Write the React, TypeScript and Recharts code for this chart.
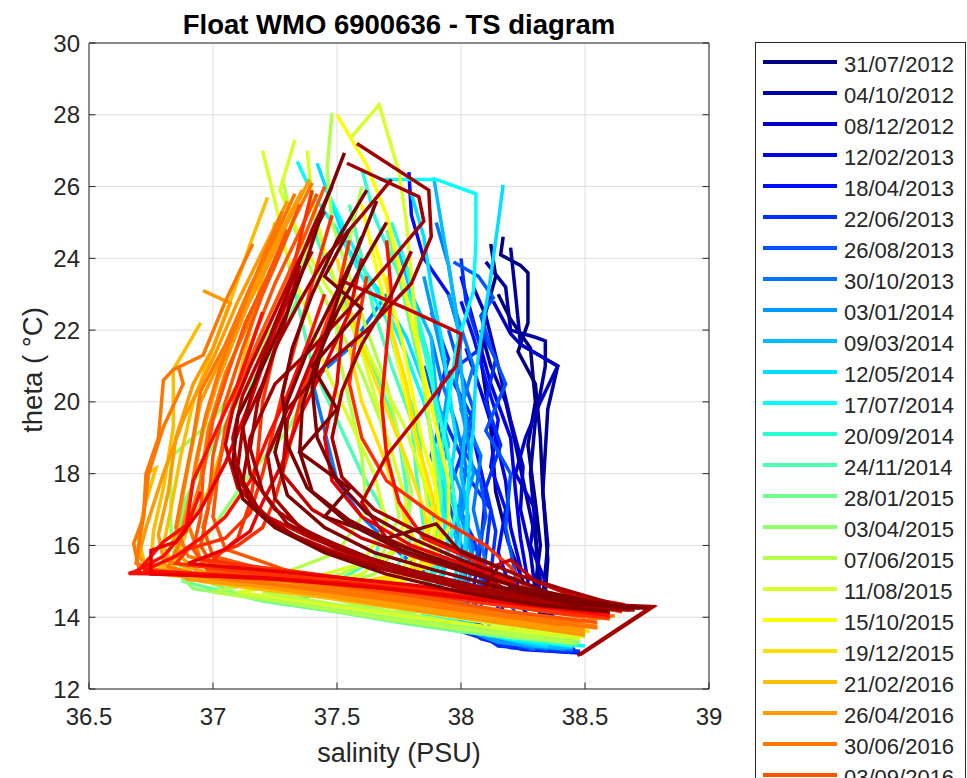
import React from 'react';
import { LineChart, Line, XAxis, YAxis, CartesianGrid, Legend, Label } from 'recharts';

// ---- data ----------------------------------------------------------------

type Pt = [number, number]; // [salinity, theta]
interface Profile {
    bin: number; // date bin, 0 = 31/07/2012 ... 29 = last bin of 2017
    pts: Pt[];
}

const salinityTicks = [36.5, 37, 37.5, 38, 38.5, 39];
const thetaTicks = [12, 14, 16, 18, 20, 22, 24, 26, 28, 30];

const legendDates = [
    '31/07/2012', '04/10/2012', '08/12/2012', '12/02/2013', '18/04/2013', '22/06/2013',
    '26/08/2013', '30/10/2013', '03/01/2014', '09/03/2014', '12/05/2014', '17/07/2014',
    '20/09/2014', '24/11/2014', '28/01/2015', '03/04/2015', '07/06/2015', '11/08/2015',
    '15/10/2015', '19/12/2015', '21/02/2016', '26/04/2016', '30/06/2016', '03/09/2016',
];

// jet(30)
const binColors = [
    '#000080', '#0000a3', '#0000c6', '#0000e9', '#000dff', '#0030ff', '#0054ff', '#0077ff',
    '#009aff', '#00bdff', '#00e0ff', '#04fffb', '#28ffd7', '#4bffb4', '#6eff91', '#91ff6e',
    '#b4ff4b', '#d7ff28', '#fbff04', '#ffe000', '#ffbd00', '#ff9a00', '#ff7700', '#ff5400',
    '#ff3000', '#ff0d00', '#e90000', '#c60000', '#a30000', '#800000',
];

const navyProfiles: Profile[] = [
    { bin: 0, pts: [[38.12, 24.4], [38.14, 23.5], [38.1, 22.5], [38.08, 21.2], [38.12, 19.3], [38.14, 17.5], [38.19, 16.1], [38.25, 15.0], [38.3, 14.4], [38.35, 13.6], [38.42, 13.2]] },
    { bin: 0, pts: [[38.17, 24.6], [38.16, 24.1], [38.24, 23.8], [38.27, 23.6], [38.27, 22.2], [38.23, 21.4], [38.3, 20.5], [38.32, 19.0], [38.33, 17.5], [38.35, 15.6], [38.34, 14.7], [38.38, 13.8], [38.45, 13.3]] },
    { bin: 0, pts: [[38.15, 23.0], [38.2, 22.3], [38.28, 21.5], [38.3, 20.0], [38.27, 18.8], [38.3, 17.2], [38.32, 16.0], [38.3, 14.9], [38.36, 14.0], [38.44, 13.3]] },
    { bin: 1, pts: [[38.2, 24.3], [38.22, 23.0], [38.24, 21.6], [38.39, 21.0], [38.35, 19.8], [38.33, 17.5], [38.35, 16.0], [38.33, 14.6], [38.4, 13.6], [38.47, 13.25]] },
    { bin: 1, pts: [[38.1, 23.9], [38.18, 23.2], [38.2, 22.0], [38.3, 21.8], [38.34, 21.7], [38.34, 21.0], [38.3, 19.5], [38.28, 18.0], [38.3, 16.5], [38.31, 15.2], [38.3, 14.5], [38.38, 13.6], [38.46, 13.2]] },
    { bin: 1, pts: [[38.08, 22.0], [38.12, 21.0], [38.18, 20.0], [38.22, 18.8], [38.26, 17.5], [38.3, 16.2], [38.32, 15.0], [38.3, 14.5], [38.4, 13.5]] },
    { bin: 2, pts: [[38.05, 23.2], [38.1, 22.4], [38.15, 21.0], [38.2, 19.5], [38.25, 18.2], [38.24, 17.0], [38.28, 15.8], [38.3, 14.7], [38.36, 13.8], [38.45, 13.2]] },
    { bin: 2, pts: [[38.13, 22.8], [38.2, 21.9], [38.24, 21.6], [38.39, 21.0], [38.32, 20.0], [38.26, 19.0], [38.22, 18.0], [38.3, 17.0], [38.28, 16.0], [38.34, 15.0], [38.33, 14.3], [38.42, 13.4]] },
    { bin: 3, pts: [[38.0, 23.5], [38.06, 22.0], [38.12, 20.5], [38.2, 19.0], [38.22, 17.5], [38.24, 16.2], [38.27, 15.0], [38.25, 14.3], [38.3, 13.5], [38.42, 13.1]] },
    { bin: 3, pts: [[38.02, 21.5], [38.08, 20.3], [38.14, 19.0], [38.18, 17.8], [38.2, 16.5], [38.24, 15.4], [38.22, 14.6], [38.3, 13.7], [38.44, 13.15]] },
];

const blueProfiles: Profile[] = [
    { bin: 4, pts: [[37.79, 26.4], [37.8, 25.2], [37.85, 24.0], [37.95, 23.0], [38.0, 21.8], [37.98, 20.5], [38.05, 19.0], [38.1, 17.5], [38.08, 16.0], [38.05, 14.8], [38.0, 13.9], [38.08, 13.4], [38.25, 13.1], [38.48, 13.0]] },
    { bin: 4, pts: [[38.0, 22.8], [38.05, 21.8], [38.1, 20.6], [38.15, 19.5], [38.12, 18.2], [38.18, 17.0], [38.15, 15.8], [38.2, 14.8], [38.15, 14.0], [38.3, 13.3], [38.46, 13.1]] },
    { bin: 5, pts: [[38.0, 24.0], [38.02, 22.8], [38.08, 21.5], [37.95, 20.8], [38.05, 19.5], [38.0, 18.2], [38.12, 17.0], [38.1, 15.8], [38.08, 14.7], [38.02, 13.8], [38.15, 13.2], [38.4, 13.05]] },
    { bin: 5, pts: [[37.88, 22.5], [37.95, 21.2], [37.9, 20.0], [38.0, 18.5], [37.95, 17.5], [38.05, 16.2], [38.1, 15.0], [38.05, 14.2], [37.98, 13.65], [38.2, 13.15], [38.45, 13.02]] },
    { bin: 5, pts: [[38.08, 22.0], [38.14, 21.2], [38.1, 20.0], [38.16, 18.8], [38.1, 17.6], [38.14, 16.4], [38.12, 15.2], [38.15, 14.3], [38.1, 13.6], [38.3, 13.15], [38.48, 13.05]] },
    { bin: 6, pts: [[37.97, 23.9], [38.07, 23.5], [38.13, 22.9], [38.08, 22.4], [38.12, 21.5], [38.18, 20.5], [38.1, 19.2], [38.2, 18.0], [38.18, 16.5], [38.22, 15.2], [38.2, 14.4], [38.25, 13.6], [38.4, 13.15]] },
    { bin: 6, pts: [[37.85, 21.0], [37.92, 19.5], [37.88, 18.5], [37.95, 17.2], [38.0, 16.0], [38.02, 15.0], [38.0, 14.2], [38.1, 13.5], [38.35, 13.1]] },
    { bin: 6, pts: [[37.95, 22.0], [38.0, 20.8], [38.05, 19.8], [38.0, 18.8], [38.08, 17.8], [38.1, 16.8], [38.06, 15.6], [38.1, 14.6], [38.05, 13.9], [38.2, 13.3], [38.45, 13.08]] },
    { bin: 7, pts: [[37.9, 25.0], [37.95, 23.8], [37.98, 22.5], [38.05, 21.0], [38.0, 19.8], [38.08, 18.5], [38.05, 17.0], [38.1, 15.5], [38.05, 14.5], [38.05, 13.8], [38.2, 13.3], [38.45, 13.1]] },
    { bin: 7, pts: [[37.7, 23.0], [37.55, 21.5], [37.4, 20.6], [37.45, 19.2], [37.5, 17.8], [37.6, 16.8], [37.75, 15.8], [37.9, 15.0], [38.0, 14.2], [38.1, 13.5], [38.3, 13.1]] },
    { bin: 7, pts: [[37.88, 21.8], [37.92, 20.6], [37.98, 19.4], [38.02, 18.2], [38.0, 17.0], [38.05, 15.9], [38.0, 14.9], [37.98, 14.1], [38.1, 13.5], [38.35, 13.12]] },
];

const cyanProfiles: Profile[] = [
    { bin: 8, pts: [[37.85, 23.5], [37.9, 22.0], [37.95, 20.5], [37.92, 19.0], [38.0, 17.5], [37.98, 16.0], [38.02, 15.0], [38.0, 14.2], [38.0, 13.7], [38.15, 13.3], [38.42, 13.1]] },
    { bin: 8, pts: [[37.95, 23.0], [38.0, 21.8], [37.98, 20.6], [38.02, 19.2], [38.05, 18.0], [38.0, 16.8], [38.05, 15.6], [38.02, 14.6], [38.0, 13.9], [38.2, 13.35], [38.45, 13.15]] },
    { bin: 9, pts: [[37.75, 24.2], [37.8, 23.0], [37.88, 21.8], [37.9, 20.2], [37.95, 18.8], [37.9, 17.5], [37.98, 16.2], [38.0, 15.2], [37.95, 14.2], [38.05, 13.6], [38.3, 13.2], [38.45, 13.15]] },
    { bin: 9, pts: [[37.89, 26.25], [37.92, 25.0], [37.95, 23.8], [37.98, 22.5], [38.0, 21.0], [38.02, 19.5], [38.0, 18.0], [38.03, 16.8], [38.02, 15.5], [38.0, 14.5], [38.0, 13.9], [38.2, 13.4], [38.45, 13.2]] },
    { bin: 10, pts: [[38.17, 26.05], [38.15, 25.0], [38.12, 23.5], [38.09, 22.2], [38.06, 20.8], [38.05, 19.3], [38.03, 17.8], [38.02, 16.3], [38.0, 15.0], [37.98, 14.2], [38.1, 13.5], [38.35, 13.2]] },
    { bin: 10, pts: [[37.42, 26.65], [37.48, 25.5], [37.55, 24.2], [37.68, 23.0], [37.78, 21.8], [37.85, 20.5], [37.88, 19.0], [37.93, 17.5], [37.95, 16.0], [37.92, 14.8], [37.9, 14.0], [38.1, 13.6], [38.4, 13.3]] },
    { bin: 10, pts: [[37.8, 25.8], [37.85, 24.6], [37.88, 23.2], [37.92, 21.8], [37.95, 20.4], [37.98, 19.0], [37.95, 17.6], [38.0, 16.4], [37.98, 15.2], [37.95, 14.3], [38.05, 13.7], [38.35, 13.25]] },
    { bin: 11, pts: [[37.67, 26.2], [37.9, 26.2], [38.06, 25.8], [38.06, 24.4], [38.05, 23.1], [37.98, 21.5], [37.95, 20.0], [37.92, 18.5], [37.95, 17.0], [37.9, 15.5], [37.85, 14.4], [38.0, 13.8], [38.3, 13.3], [38.5, 13.2]] },
    { bin: 11, pts: [[37.34, 26.7], [37.4, 25.8], [37.5, 24.8], [37.6, 23.5], [37.7, 22.3], [37.75, 21.0], [37.82, 19.5], [37.85, 18.0], [37.9, 16.5], [37.88, 15.2], [37.8, 14.3], [37.95, 13.8], [38.2, 13.4], [38.45, 13.2]] },
    { bin: 11, pts: [[37.45, 26.0], [37.52, 25.0], [37.6, 23.8], [37.7, 22.6], [37.78, 21.3], [37.85, 20.0], [37.9, 18.6], [37.92, 17.2], [37.95, 15.9], [37.9, 14.8], [37.85, 14.1], [38.05, 13.7], [38.4, 13.3]] },
    { bin: 12, pts: [[37.6, 26.5], [37.65, 25.2], [37.72, 24.0], [37.8, 22.8], [37.85, 21.5], [37.9, 20.0], [37.95, 18.5], [37.98, 17.0], [37.95, 15.8], [37.85, 14.8], [37.8, 14.0], [38.05, 13.65], [38.45, 13.25]] },
    { bin: 12, pts: [[37.72, 25.0], [37.78, 23.8], [37.82, 22.5], [37.88, 21.0], [37.9, 19.6], [37.92, 18.2], [37.9, 16.8], [37.92, 15.6], [37.85, 14.6], [37.9, 13.9], [38.2, 13.5], [38.47, 13.28]] },
];

const greenProfiles: Profile[] = [
    { bin: 13, pts: [[37.55, 25.5], [37.6, 24.0], [37.65, 22.5], [37.72, 21.0], [37.8, 19.5], [37.82, 18.0], [37.85, 16.5], [37.8, 15.3], [37.7, 14.4], [37.85, 13.9], [38.1, 13.55], [38.45, 13.25]] },
    { bin: 13, pts: [[37.3, 24.0], [37.35, 22.5], [37.4, 21.0], [37.5, 19.5], [37.6, 18.0], [37.7, 16.8], [37.65, 15.6], [37.4, 14.6], [37.25, 14.4], [37.5, 14.15], [38.0, 13.6], [38.45, 13.25]] },
    { bin: 13, pts: [[37.4, 25.8], [37.42, 24.5], [37.5, 23.2], [37.6, 21.8], [37.68, 20.4], [37.75, 19.0], [37.78, 17.6], [37.8, 16.2], [37.72, 15.1], [37.5, 14.5], [37.8, 14.0], [38.2, 13.55], [38.47, 13.3]] },
    { bin: 14, pts: [[37.35, 23.0], [37.25, 21.5], [37.1, 20.0], [36.99, 18.65], [36.89, 17.3], [36.85, 16.0], [36.88, 15.0], [37.2, 14.45], [37.5, 14.15], [37.75, 13.85], [38.0, 13.6], [38.25, 13.4], [38.47, 13.25]] },
    { bin: 14, pts: [[37.7, 24.8], [37.75, 23.5], [37.8, 22.0], [37.85, 20.5], [37.88, 19.0], [37.92, 17.5], [37.9, 16.2], [37.85, 15.0], [37.75, 14.2], [37.95, 13.75], [38.3, 13.4], [38.48, 13.3]] },
    { bin: 15, pts: [[37.4, 24.5], [37.3, 22.8], [37.15, 21.0], [37.0, 19.5], [36.83, 18.46], [36.83, 16.5], [36.85, 15.3], [36.92, 14.8], [37.2, 14.5], [37.5, 14.2], [37.9, 13.75], [38.2, 13.45], [38.46, 13.3]] },
    { bin: 15, pts: [[37.45, 22.0], [37.4, 20.5], [37.3, 19.2], [37.15, 18.0], [37.05, 17.0], [36.95, 16.0], [36.9, 15.2], [37.1, 14.65], [37.45, 14.25], [37.85, 13.85], [38.2, 13.5], [38.47, 13.28]] },
    { bin: 16, pts: [[37.6, 26.0], [37.55, 24.5], [37.5, 23.0], [37.5, 21.5], [37.55, 20.0], [37.6, 18.5], [37.62, 17.0], [37.5, 15.8], [37.2, 15.0], [37.0, 14.7], [37.3, 14.4], [37.7, 13.95], [38.1, 13.6], [38.45, 13.3]] },
];

const yellowProfiles: Profile[] = [
    { bin: 16, pts: [[37.48, 28.05], [37.46, 26.5], [37.48, 25.0], [37.55, 23.5], [37.62, 22.0], [37.7, 20.5], [37.75, 19.0], [37.8, 17.5], [37.78, 16.2], [37.65, 15.2], [37.4, 14.7], [37.6, 14.3], [37.9, 13.95], [38.2, 13.6], [38.47, 13.4]] },
    { bin: 16, pts: [[37.28, 26.2], [37.32, 25.0], [37.4, 23.6], [37.5, 22.2], [37.6, 20.8], [37.68, 19.4], [37.72, 18.0], [37.75, 16.8], [37.68, 15.7], [37.45, 15.0], [37.2, 14.7], [37.5, 14.35], [37.9, 13.9], [38.3, 13.55], [38.48, 13.4]] },
    { bin: 17, pts: [[37.56, 27.4], [37.67, 28.28], [37.75, 26.4], [37.78, 25.0], [37.8, 23.5], [37.82, 22.0], [37.85, 20.5], [37.88, 19.0], [37.9, 17.5], [37.85, 16.2], [37.75, 15.2], [37.8, 14.5], [38.0, 14.1], [38.3, 13.7], [38.5, 13.45]] },
    { bin: 17, pts: [[37.2, 27.0], [37.26, 25.3], [37.3, 24.0], [37.38, 22.5], [37.45, 21.0], [37.55, 19.5], [37.65, 18.0], [37.7, 16.6], [37.6, 15.5], [37.3, 14.9], [37.1, 14.7], [37.4, 14.4], [37.8, 14.0], [38.2, 13.65], [38.48, 13.4]] },
    { bin: 17, pts: [[37.33, 27.3], [37.27, 25.9], [37.35, 24.6], [37.45, 23.3], [37.58, 22.0], [37.68, 20.6], [37.78, 19.2], [37.85, 17.8], [37.88, 16.5], [37.8, 15.4], [37.6, 14.8], [37.9, 14.3], [38.25, 13.85], [38.5, 13.5]] },
    { bin: 17, pts: [[37.38, 27.0], [37.4, 25.6], [37.45, 24.2], [37.52, 22.8], [37.6, 21.4], [37.66, 20.0], [37.72, 18.6], [37.78, 17.2], [37.75, 16.0], [37.6, 15.2], [37.35, 14.8], [37.7, 14.3], [38.1, 13.85], [38.48, 13.45]] },
    { bin: 18, pts: [[37.5, 28.0], [37.62, 26.6], [37.7, 25.2], [37.75, 23.8], [37.8, 22.3], [37.85, 20.8], [37.9, 19.3], [37.95, 17.8], [37.95, 16.5], [37.88, 15.5], [37.7, 14.8], [37.9, 14.3], [38.2, 13.85], [38.48, 13.55]] },
    { bin: 18, pts: [[37.6, 25.5], [37.65, 24.0], [37.7, 22.5], [37.75, 21.0], [37.8, 19.5], [37.85, 18.0], [37.9, 16.8], [37.88, 15.8], [37.8, 15.1], [37.6, 14.7], [37.9, 14.2], [38.25, 13.8], [38.5, 13.55]] },
    { bin: 18, pts: [[37.65, 24.5], [37.7, 23.2], [37.76, 21.8], [37.8, 20.4], [37.84, 19.0], [37.9, 17.6], [37.92, 16.4], [37.85, 15.4], [37.65, 14.8], [37.85, 14.4], [38.2, 13.9], [38.5, 13.55]] },
    { bin: 19, pts: [[37.7, 23.5], [37.72, 22.0], [37.78, 20.5], [37.82, 19.0], [37.88, 17.5], [37.92, 16.2], [37.9, 15.5], [37.7, 15.0], [37.5, 14.75], [37.8, 14.35], [38.2, 13.9], [38.5, 13.6]] },
    { bin: 19, pts: [[37.55, 21.5], [37.6, 20.0], [37.68, 18.6], [37.75, 17.2], [37.82, 16.0], [37.8, 15.3], [37.55, 14.9], [37.3, 14.7], [37.6, 14.45], [38.0, 14.1], [38.35, 13.75], [38.52, 13.6]] },
    { bin: 19, pts: [[37.5, 24.0], [37.55, 22.6], [37.62, 21.2], [37.7, 19.8], [37.78, 18.4], [37.85, 17.0], [37.88, 15.9], [37.8, 15.2], [37.55, 14.85], [37.85, 14.45], [38.2, 14.0], [38.5, 13.65]] },
];

const orangeProfiles: Profile[] = [
    { bin: 20, pts: [[37.25, 25.0], [37.2, 23.5], [37.15, 22.0], [37.1, 20.5], [37.05, 19.0], [36.98, 17.5], [36.9, 16.5], [36.85, 15.6], [36.95, 15.0], [37.3, 14.7], [37.7, 14.3], [38.1, 13.9], [38.5, 13.55]] },
    { bin: 20, pts: [[36.95, 22.2], [36.9, 21.6], [36.84, 20.9], [36.84, 19.3], [36.8, 17.6], [36.76, 16.4], [36.75, 15.5], [37.0, 14.95], [37.5, 14.5], [38.0, 14.0], [38.5, 13.55]] },
    { bin: 20, pts: [[36.73, 18.0], [36.77, 18.15], [36.72, 17.0], [36.7, 16.2], [36.72, 15.6], [36.8, 15.2], [37.2, 14.8], [37.6, 14.45], [38.0, 14.05], [38.45, 13.6]] },
    { bin: 20, pts: [[37.22, 25.7], [37.15, 24.4], [37.08, 23.0], [37.0, 21.5], [36.92, 20.0], [36.87, 18.5], [36.83, 17.0], [36.8, 16.0], [36.85, 15.3], [37.1, 14.95], [37.5, 14.6], [38.0, 14.1], [38.5, 13.6]] },
    { bin: 21, pts: [[37.39, 26.2], [37.3, 25.0], [37.2, 23.5], [37.08, 21.9], [36.95, 20.0], [36.9, 18.2], [36.85, 16.3], [36.8, 15.5], [36.9, 15.05], [37.2, 14.85], [37.5, 14.55], [38.0, 14.0], [38.5, 13.5]] },
    { bin: 21, pts: [[37.3, 25.6], [37.2, 24.2], [37.1, 22.8], [37.0, 21.2], [36.88, 19.5], [36.8, 18.0], [36.73, 16.5], [36.7, 15.7], [36.75, 15.3], [37.1, 15.0], [37.6, 14.55], [38.0, 14.1], [38.5, 13.6]] },
    { bin: 21, pts: [[36.96, 23.1], [37.07, 22.75], [37.0, 21.5], [36.92, 20.5], [36.85, 19.0], [36.82, 17.5], [36.78, 16.3], [36.8, 15.6], [37.0, 15.2], [37.5, 14.7], [38.0, 14.15], [38.5, 13.65]] },
    { bin: 21, pts: [[37.36, 25.9], [37.27, 24.7], [37.18, 23.4], [37.1, 22.0], [37.02, 20.6], [36.96, 19.2], [36.92, 17.8], [36.88, 16.6], [36.85, 15.8], [36.95, 15.2], [37.4, 14.8], [37.9, 14.3], [38.45, 13.75]] },
    { bin: 22, pts: [[37.4, 26.1], [37.32, 25.0], [37.25, 23.8], [37.15, 22.3], [37.05, 20.8], [36.98, 19.2], [36.95, 17.8], [36.9, 16.6], [36.95, 15.6], [37.2, 15.1], [37.6, 14.7], [38.0, 14.2], [38.4, 13.8], [38.62, 14.05]] },
    { bin: 22, pts: [[37.16, 24.4], [37.05, 22.8], [36.96, 21.3], [36.84, 20.9], [36.8, 20.6], [36.78, 19.0], [36.73, 18.0], [36.72, 16.8], [36.68, 16.05], [36.7, 15.4], [36.9, 15.2], [37.4, 14.8], [37.9, 14.35], [38.3, 13.95], [38.55, 13.75]] },
    { bin: 22, pts: [[37.33, 25.8], [37.25, 24.6], [37.15, 23.2], [37.05, 21.6], [36.95, 20.3], [36.92, 19.0], [36.88, 17.6], [36.85, 16.5], [36.9, 15.7], [37.15, 15.2], [37.55, 14.8], [38.0, 14.3], [38.45, 13.85]] },
    { bin: 22, pts: [[37.28, 25.3], [37.2, 24.0], [37.12, 22.6], [37.03, 21.0], [36.97, 19.6], [36.93, 18.3], [36.9, 17.0], [36.86, 16.0], [36.82, 15.4], [37.0, 15.1], [37.45, 14.75], [37.95, 14.25], [38.5, 13.75]] },
    { bin: 22, pts: [[36.86, 21.0], [36.88, 20.5], [36.8, 19.3], [36.74, 18.0], [36.72, 16.8], [36.7, 16.0], [36.69, 15.5], [36.8, 15.25], [37.2, 14.95], [37.7, 14.5], [38.2, 14.0], [38.55, 13.7]] },
    { bin: 23, pts: [[37.35, 25.5], [37.28, 24.3], [37.2, 23.0], [37.12, 21.5], [37.05, 20.0], [37.0, 18.5], [36.98, 17.0], [36.95, 16.0], [37.0, 15.4], [37.4, 15.0], [37.8, 14.6], [38.2, 14.15], [38.55, 13.85]] },
    { bin: 23, pts: [[37.45, 26.0], [37.38, 24.8], [37.3, 23.5], [37.2, 22.0], [37.12, 20.7], [37.05, 19.3], [37.02, 18.0], [37.0, 16.8], [37.05, 15.9], [37.3, 15.3], [37.7, 14.85], [38.1, 14.4], [38.5, 14.0]] },
    { bin: 23, pts: [[37.42, 25.8], [37.34, 24.6], [37.25, 23.3], [37.17, 21.9], [37.1, 20.5], [37.05, 19.0], [37.0, 17.6], [36.96, 16.5], [37.0, 15.7], [37.25, 15.25], [37.65, 14.9], [38.1, 14.45], [38.55, 14.0]] },
    { bin: 23, pts: [[37.3, 24.8], [37.22, 23.5], [37.13, 22.2], [37.06, 20.8], [37.0, 19.5], [36.96, 18.0], [36.95, 16.8], [36.92, 15.9], [36.98, 15.3], [37.3, 15.05], [37.75, 14.7], [38.2, 14.3], [38.6, 13.95]] },
];

const redProfiles: Profile[] = [
    { bin: 24, pts: [[37.4, 25.9], [37.35, 24.5], [37.3, 23.0], [37.25, 21.5], [37.2, 20.0], [37.18, 18.5], [37.15, 17.2], [37.1, 16.2], [37.0, 15.6], [37.2, 15.25], [37.6, 14.9], [38.0, 14.5], [38.4, 14.1], [38.6, 14.0]] },
    { bin: 24, pts: [[37.55, 24.5], [37.5, 23.0], [37.42, 21.5], [37.35, 20.0], [37.3, 18.5], [37.25, 17.3], [37.2, 16.5], [37.1, 16.0], [36.95, 15.6], [37.3, 15.3], [37.8, 14.85], [38.2, 14.4], [38.55, 14.05]] },
    { bin: 24, pts: [[37.62, 23.5], [37.58, 22.0], [37.55, 20.5], [37.6, 19.0], [37.7, 17.8], [37.9, 16.8], [38.1, 16.0], [38.2, 15.4], [38.25, 14.9], [38.45, 14.4], [38.65, 14.15]] },
    { bin: 24, pts: [[37.48, 25.2], [37.42, 23.8], [37.36, 22.3], [37.3, 20.8], [37.25, 19.4], [37.2, 18.0], [37.15, 16.9], [37.05, 16.2], [36.9, 15.9], [36.85, 15.5], [37.2, 15.2], [37.7, 14.85], [38.15, 14.45], [38.55, 14.1]] },
    { bin: 25, pts: [[37.2, 22.5], [37.1, 20.5], [37.0, 19.0], [36.92, 17.8], [36.89, 16.4], [36.8, 15.7], [36.68, 15.25], [37.0, 15.15], [37.5, 14.95], [38.0, 14.55], [38.5, 14.15]] },
    { bin: 25, pts: [[37.7, 24.5], [37.72, 23.0], [37.7, 21.5], [37.68, 20.0], [37.7, 18.5], [37.75, 17.2], [37.85, 16.2], [38.05, 15.6], [38.15, 15.2], [38.1, 14.8], [38.3, 14.4], [38.6, 14.1]] },
    { bin: 25, pts: [[36.95, 17.5], [36.9, 16.6], [36.8, 16.1], [36.7, 15.3], [36.66, 15.22], [36.9, 15.2], [37.3, 15.05], [37.8, 14.75], [38.25, 14.35], [38.6, 14.05]] },
    { bin: 25, pts: [[37.45, 23.0], [37.38, 21.6], [37.3, 20.2], [37.22, 19.0], [37.15, 17.8], [37.05, 16.8], [36.95, 16.2], [36.85, 15.7], [36.72, 15.3], [37.1, 15.15], [37.6, 14.9], [38.1, 14.5], [38.55, 14.15]] },
    { bin: 26, pts: [[37.35, 24.0], [37.25, 22.0], [37.15, 20.0], [37.05, 18.3], [36.95, 17.0], [36.85, 16.1], [36.75, 15.86], [36.75, 15.2], [37.2, 15.1], [37.7, 14.8], [38.2, 14.4], [38.55, 14.15]] },
    { bin: 26, pts: [[37.52, 22.0], [37.5, 20.5], [37.45, 19.0], [37.48, 17.8], [37.6, 16.8], [37.8, 16.0], [38.0, 15.5], [38.2, 15.0], [38.3, 14.5], [38.55, 14.2]] },
    { bin: 26, pts: [[37.6, 24.0], [37.55, 22.5], [37.45, 21.0], [37.35, 19.6], [37.28, 18.3], [37.2, 17.2], [37.15, 16.4], [37.05, 15.9], [36.9, 15.5], [37.3, 15.25], [37.8, 14.9], [38.25, 14.5], [38.6, 14.2]] },
];

const darkRedProfiles: Profile[] = [
    { bin: 27, pts: [[37.51, 23.4], [37.78, 22.6], [38.0, 21.9], [37.98, 21.0], [37.85, 19.8], [37.7, 18.5], [37.6, 17.2], [37.7, 16.2], [37.9, 15.6], [38.1, 15.1], [38.2, 14.7], [38.4, 14.4], [38.65, 14.2]] },
    { bin: 27, pts: [[37.45, 25.3], [37.35, 24.0], [37.25, 22.5], [37.15, 21.0], [37.08, 19.8], [37.05, 18.8], [37.1, 17.6], [37.22, 16.8], [37.4, 16.2], [37.6, 15.7], [37.85, 15.2], [38.1, 14.75], [38.4, 14.4], [38.6, 14.25]] },
    { bin: 27, pts: [[37.5, 22.5], [37.4, 21.2], [37.3, 19.5], [37.28, 18.0], [37.4, 17.0], [37.6, 16.2], [37.85, 15.6], [38.05, 15.2], [38.2, 15.6], [38.3, 15.0], [38.45, 14.6], [38.66, 14.35]] },
    { bin: 27, pts: [[37.4, 24.2], [37.3, 22.8], [37.2, 21.4], [37.12, 20.2], [37.08, 19.0], [37.1, 17.9], [37.18, 17.0], [37.32, 16.3], [37.5, 15.8], [37.75, 15.35], [38.0, 14.9], [38.3, 14.5], [38.6, 14.25]] },
    { bin: 28, pts: [[37.58, 27.2], [37.87, 25.9], [37.88, 24.6], [37.8, 23.3], [37.62, 22.0], [37.45, 21.0], [37.3, 19.8], [37.22, 18.5], [37.25, 17.3], [37.35, 16.5], [37.5, 16.0], [37.75, 15.3], [38.0, 14.8], [38.3, 14.4], [38.55, 14.25], [38.77, 14.27], [38.48, 12.95]] },
    { bin: 28, pts: [[37.54, 26.65], [37.83, 25.72], [37.85, 25.03], [37.7, 23.8], [37.55, 22.6], [37.4, 21.5], [37.25, 20.5], [37.15, 19.0], [37.12, 17.8], [37.2, 16.8], [37.4, 16.0], [37.65, 15.4], [37.95, 14.9], [38.2, 14.5], [38.5, 14.25], [38.7, 14.2]] },
    { bin: 28, pts: [[37.72, 26.2], [37.6, 25.2], [37.45, 24.0], [37.35, 22.8], [37.25, 21.5], [37.18, 20.0], [37.15, 18.7], [37.2, 17.5], [37.3, 16.6], [37.5, 15.9], [37.8, 15.3], [38.1, 14.8], [38.4, 14.4], [38.77, 14.3], [38.47, 12.93]] },
    { bin: 28, pts: [[37.35, 23.8], [37.28, 22.0], [37.2, 20.5], [37.12, 19.3], [37.15, 18.0], [37.25, 17.0], [37.4, 16.3], [37.65, 15.6], [37.9, 15.1], [38.2, 14.6], [38.45, 14.3], [38.68, 14.2]] },
    { bin: 28, pts: [[37.48, 26.0], [37.4, 24.8], [37.32, 23.4], [37.24, 22.0], [37.17, 20.6], [37.12, 19.3], [37.1, 18.2], [37.15, 17.2], [37.28, 16.4], [37.48, 15.8], [37.72, 15.3], [38.0, 14.85], [38.3, 14.45], [38.65, 14.2]] },
    { bin: 28, pts: [[37.8, 24.2], [37.72, 23.0], [37.6, 21.6], [37.52, 20.3], [37.48, 19.0], [37.52, 17.9], [37.65, 17.0], [37.85, 16.3], [38.05, 15.7], [38.22, 15.2], [38.4, 14.8], [38.6, 14.4]] },
    { bin: 29, pts: [[37.53, 26.94], [37.45, 25.5], [37.38, 24.0], [37.3, 22.5], [37.2, 21.0], [37.1, 19.6], [37.08, 18.3], [37.12, 17.3], [37.25, 16.5], [37.45, 15.8], [37.7, 15.2], [38.0, 14.7], [38.3, 14.35], [38.6, 14.15]] },
    { bin: 29, pts: [[37.62, 25.9], [37.5, 24.5], [37.4, 23.0], [37.32, 21.5], [37.28, 20.2], [37.3, 18.8], [37.38, 17.6], [37.55, 16.6], [37.75, 15.9], [38.0, 15.3], [38.25, 14.8], [38.5, 14.35], [38.7, 14.25]] },
    { bin: 29, pts: [[37.55, 24.8], [37.45, 23.5], [37.6, 22.6], [37.4, 21.0], [37.5, 19.8], [37.35, 18.6], [37.55, 17.6], [37.45, 16.8], [37.7, 16.2], [37.9, 16.6], [38.0, 15.8], [38.15, 15.4], [38.1, 14.9], [38.3, 14.6], [38.5, 14.3]] },
    { bin: 29, pts: [[37.66, 25.6], [37.58, 24.2], [37.48, 22.8], [37.38, 21.4], [37.3, 20.0], [37.25, 18.6], [37.3, 17.4], [37.45, 16.5], [37.65, 15.8], [37.9, 15.3], [38.15, 14.85], [38.42, 14.5], [38.62, 14.3]] },
    { bin: 29, pts: [[37.7, 25.0], [37.6, 23.8], [37.5, 22.5], [37.42, 21.2], [37.36, 19.9], [37.35, 18.6], [37.4, 17.5], [37.55, 16.7], [37.75, 16.0], [38.0, 15.4], [38.2, 14.9], [38.45, 14.5], [38.72, 14.25]] },
    { bin: 29, pts: [[37.6, 24.6], [37.52, 23.2], [37.45, 21.8], [37.4, 20.4], [37.42, 19.0], [37.5, 17.8], [37.62, 16.9], [37.8, 16.2], [38.0, 15.6], [38.2, 15.1], [38.35, 14.7], [38.55, 14.4], [38.75, 14.25]] },
];

// plotted oldest first so later profiles sit on top
const profiles = [
    ...navyProfiles, ...blueProfiles, ...cyanProfiles, ...greenProfiles,
    ...yellowProfiles, ...orangeProfiles, ...redProfiles, ...darkRedProfiles,
].map((p) => ({ color: binColors[p.bin], data: p.pts.map(([s, t]) => ({ s, t })) }));

// ---- styling -------------------------------------------------------------

const AXIS = '#262626';
const FONT = '"Liberation Sans", Arial, Helvetica, sans-serif';
const TICK_LEN = 6.5;

function BottomTick({ x, y, payload }: any) {
    return (
        <g>
            <line x1={x} y1={y} x2={x} y2={y - TICK_LEN} stroke={AXIS} />
            <text x={x} y={y + 36} textAnchor="middle" fontSize={24} fill={AXIS} fontFamily={FONT}>
                {payload.value}
            </text>
        </g>
    );
}

function TopTick({ x, y }: any) {
    return <line x1={x} y1={y} x2={x} y2={y + TICK_LEN} stroke={AXIS} />;
}

function LeftTick({ x, y, payload }: any) {
    return (
        <g>
            <line x1={x} y1={y} x2={x + TICK_LEN} y2={y} stroke={AXIS} />
            <text x={x - 9} y={y + 8.5} textAnchor="end" fontSize={24} fill={AXIS} fontFamily={FONT}>
                {payload.value}
            </text>
        </g>
    );
}

function RightTick({ x, y }: any) {
    return <line x1={x} y1={y} x2={x - TICK_LEN} y2={y} stroke={AXIS} />;
}

function TitleLabel({ viewBox }: any) {
    const { x, y, width, height } = viewBox;
    return (
        <text x={x + width / 2} y={y + height - 9} textAnchor="middle" fontSize={27.5} fontWeight="bold" fill="#000" fontFamily={FONT}>
            Float WMO 6900636 - TS diagram
        </text>
    );
}

function XTitle({ viewBox }: any) {
    const { x, y, width } = viewBox;
    return (
        <text x={x + width / 2} y={y + 73} textAnchor="middle" fontSize={27} fill={AXIS} fontFamily={FONT}>
            salinity (PSU)
        </text>
    );
}

function YTitle({ viewBox }: any) {
    const { x, y, width, height } = viewBox;
    const cx = x + width - 47;
    const cy = y + height / 2 + 4;
    return (
        <text x={cx} y={cy} transform={`rotate(-90 ${cx} ${cy})`} textAnchor="middle" fontSize={27.5} fill={AXIS} fontFamily={FONT}>
            theta ( °C)
        </text>
    );
}

function DateLegend() {
    const row = 31;
    const h = 20 + row * legendDates.length;
    return (
        <svg width={212} height={h} style={{ display: 'block' }}>
            <rect x={0.5} y={0.5} width={210} height={h - 1} fill="#fff" stroke={AXIS} />
            {legendDates.map((d, i) => (
                <g key={d}>
                    <line x1={8} x2={82} y1={20 + i * row} y2={20 + i * row} stroke={binColors[i]} strokeWidth={4} />
                    <text x={89} y={30 + i * row} fontSize={22} fill={AXIS} fontFamily={FONT}>
                        {d}
                    </text>
                </g>
            ))}
        </svg>
    );
}

export default function App() {
    return (
        <div
            style={{
                position: 'absolute',
                left: 0,
                top: 0,
                width: 967,
                height: 778,
                overflow: 'hidden',
                background: '#fff',
            }}
        >
            <LineChart width={967} height={778} margin={{ top: 3, right: 248, bottom: 29, left: 9 }}>
                <CartesianGrid stroke="#dedede" />
                <XAxis
                    type="number"
                    dataKey="s"
                    domain={[36.5, 39]}
                    ticks={salinityTicks}
                    interval={0}
                    allowDataOverflow
                    height={60}
                    tickSize={0}
                    tickMargin={0}
                    tickLine={false}
                    axisLine={{ stroke: AXIS }}
                    tick={<BottomTick />}
                >
                    <Label content={<XTitle />} />
                </XAxis>
                <XAxis
                    xAxisId="top"
                    orientation="top"
                    type="number"
                    domain={[36.5, 39]}
                    ticks={salinityTicks}
                    interval={0}
                    allowDataOverflow
                    height={40}
                    tickSize={0}
                    tickMargin={0}
                    tickLine={false}
                    axisLine={{ stroke: AXIS }}
                    tick={<TopTick />}
                >
                    <Label content={<TitleLabel />} />
                </XAxis>
                <YAxis
                    type="number"
                    domain={[12, 30]}
                    ticks={thetaTicks}
                    interval={0}
                    allowDataOverflow
                    width={80}
                    tickSize={0}
                    tickMargin={0}
                    tickLine={false}
                    axisLine={{ stroke: AXIS }}
                    tick={<LeftTick />}
                >
                    <Label content={<YTitle />} />
                </YAxis>
                <YAxis
                    yAxisId="right"
                    orientation="right"
                    type="number"
                    domain={[12, 30]}
                    ticks={thetaTicks}
                    interval={0}
                    allowDataOverflow
                    width={10}
                    tickSize={0}
                    tickMargin={0}
                    tickLine={false}
                    axisLine={{ stroke: AXIS }}
                    tick={<RightTick />}
                />
                {profiles.map((p, i) => (
                    <Line
                        key={i}
                        data={p.data}
                        dataKey="t"
                        type="linear"
                        stroke={p.color}
                        strokeWidth={3.5}
                        dot={false}
                        activeDot={false}
                        isAnimationActive={false}
                    />
                ))}
                <Legend
                    layout="vertical"
                    align="center"
                    verticalAlign="middle"
                    wrapperStyle={{ left: 755, top: 42, width: 212 }}
                    content={() => <DateLegend />}
                />
            </LineChart>
        </div>
    );
}
